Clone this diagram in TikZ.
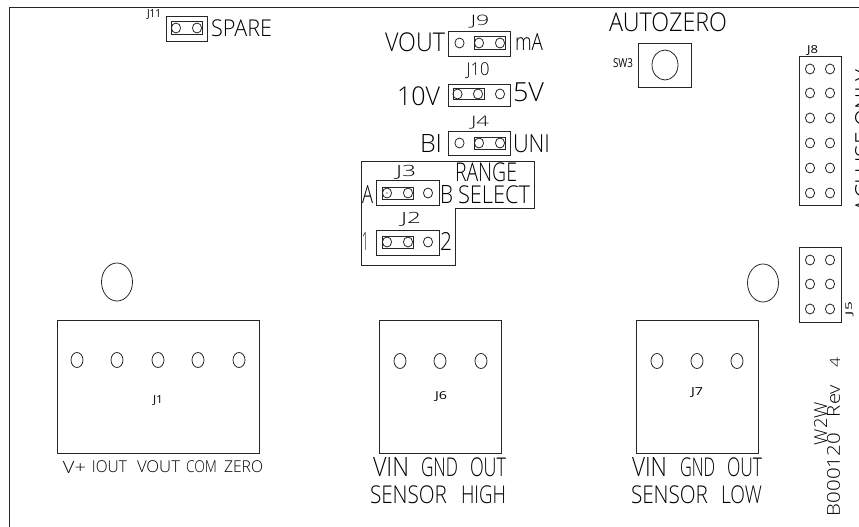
\documentclass[tikz,border=0pt]{standalone}
\usepackage{fontspec}
\setmainfont{Open Sans Light}
\newfontfamily\smallfam{Open Sans}
\begin{document}
\begin{tikzpicture}[x=1pt,y=-1pt,
  ln/.style={draw=black!85,line width=0.8pt},
  jump/.style={draw=black!85,line width=1pt},
  lbl/.style={inner sep=0pt,outer sep=0pt,text=black}]
\newcommand{\lab}[7][0]{\node[lbl,rotate=#1] (#2) at (#3) {\resizebox*{#4pt}{#5pt}{#6}};}
\newcommand{\slab}[7][0]{\node[lbl,rotate=#1] (#2) at (#3) {\resizebox*{#4pt}{#5pt}{\smallfam #6}};}
\newcommand{\pins}[2]{\foreach \px in {#1} \foreach \py in {#2} \draw[ln] (\px,\py) circle [x radius=4.6pt,y radius=5pt];}
\newcommand{\bigpins}[2]{\foreach \px in {#1} \draw[ln] (\px,#2) circle [x radius=6pt,y radius=7.5pt];}
\useasboundingbox (0,0) rectangle (859,527);
\clip (0,0) rectangle (859,527);
% frame
\draw[ln,line width=1pt] (9,527) -- (9,8) -- (859,8);
% J11
\draw[ln] (166,16) rectangle (207,41);
\draw[jump] (171,22) rectangle (202,35);
\pins{176,197}{28}
\slab{j11}{154,15}{14}{10}{J11}{}
\lab{spare}{241.5,28.5}{61}{17}{SPARE}{}
% J9
\draw[ln] (448,31) rectangle (510,56);
\draw[jump] (474,37) rectangle (505,50);
\pins{459.5,479,500}{43}
\lab{j9}{480,22}{19}{13}{J9}{}
\lab{vouta}{415,42.5}{60}{19}{VOUT}{}
\lab{ma}{529,41.5}{28}{17}{mA}{}
% J10
\draw[ln] (448,84) rectangle (510,106);
\draw[jump] (453,88) rectangle (484,99);
\pins{457.5,478,500}{94}
\lab{j10}{478,71}{23}{16}{J10}{}
\lab{tenv}{418.5,96.5}{43}{19}{10V}{}
\lab{fivev}{528.5,92.5}{31}{19}{5V}{}
% J4
\draw[ln] (448,131) rectangle (510,155);
\draw[jump] (474,137) rectangle (505,149);
\pins{459.5,479,500}{143}
\lab{j4}{480,123}{18}{13}{J4}{}
\lab{bi}{431,143}{22}{18}{BI}{}
\lab{uni}{531.5,144}{37}{18}{UNI}{}
% range outline
\draw[ln] (361,161) -- (534,161) -- (534,208) -- (455,208) -- (455,265) -- (361,265) -- cycle;
\lab{range}{486,172.5}{62}{19}{RANGE}{}
\lab{select}{494,194.5}{72}{18}{SELECT}{}
% J3
\draw[ln] (376,180) rectangle (439,205);
\draw[jump] (382,187) rectangle (413,199);
\pins{387,408,428}{193}
\fill[black] (387,193) circle [radius=0.6pt];
\lab{j3}{406,172.5}{20}{14}{J3}{}
\lab{a}{367.5,194}{11}{18}{A}{}
\lab{b}{446.5,194}{13}{18}{B}{}
% J2
\draw[ln] (376,230) rectangle (439,255);
\draw[jump] (382,236) rectangle (413,248);
\pins{387,408,428}{242}
\lab{j2}{411,219.5}{20}{14}{J2}{}
\lab{one}{365,241}{6}{18}{1}{}
\lab{two}{446,241}{12}{18}{2}{}
% SW3
\lab{autozero}{668,22.5}{118}{19}{AUTOZERO}{}
\slab{swt}{623,63.5}{20}{9}{SW3}{}
\draw[ln] (638,43) rectangle (691,87);
\draw[ln] (665,65) circle [x radius=13pt,y radius=15pt];
% J8
\draw[ln] (799,56) rectangle (841,205);
\pins{810,830}{69,93,118,143,168,193}
\slab{j8}{812.5,51}{11}{10}{J8}{}
\lab[90]{aci}{864,141}{142}{18}{ACI USE ONLY}{}
% J5
\draw[ln] (799,247) rectangle (841,322);
\pins{810,830}{260,284,309}
\slab[90]{j5}{849.5,308.5}{13}{8}{J5}{}
% mounting holes
\draw[ln] (763,283) circle [x radius=15.5pt,y radius=19pt];
\draw[ln] (117,282) circle [x radius=15.5pt,y radius=19pt];
% J1
\draw[ln] (57,320) rectangle (259,453);
\bigpins{77,117,158,198,239}{360}
\slab{jone}{158,400.5}{10}{10}{J1}{}
\lab{vplus}{74.5,467}{23}{12}{V+}{}
\lab{iout}{109.5,467}{35}{12}{IOUT}{}
\lab{voutb}{158.5,467}{43}{12}{VOUT}{}
\lab{com}{201.5,467}{31}{12}{COM}{}
\lab{zero}{243.5,467}{39}{12}{ZERO}{}
% J6
\draw[ln] (379,320) rectangle (501,453);
\bigpins{400,440,481}{361}
\slab{jsix}{441,396.5}{12}{10}{J6}{}
\lab{vina}{391,467}{36}{19}{VIN}{}
\lab{gnda}{439.5,467}{37}{19}{GND}{}
\lab{outa}{488,467}{36}{19}{OUT}{}
\lab{sensa}{408.5,495}{77}{18}{SENSOR}{}
\lab{high}{483.5,495}{45}{18}{HIGH}{}
% J7
\draw[ln] (636,320) rectangle (758,453);
\bigpins{657,697,737}{361}
\slab{jseven}{697,393}{12}{10}{J7}{}
\lab{vinb}{649.5,467}{35}{19}{VIN}{}
\lab{gndb}{697.5,467}{35}{19}{GND}{}
\lab{outb}{744.5,467}{35}{19}{OUT}{}
\lab{sensb}{669.5,495}{77}{18}{SENSOR}{}
\lab{low}{741.5,495}{41}{18}{LOW}{}
% revision
\lab[90]{part}{833.5,474.5}{83}{13}{B000120}{}
\lab[90]{rev}{833.5,401}{32}{13}{Rev}{}
\lab[90]{four}{835,362}{10}{10}{4}{}
\lab[90]{wtw}{820.5,423.5}{43}{13}{W2W}{}
\end{tikzpicture}
\end{document}
